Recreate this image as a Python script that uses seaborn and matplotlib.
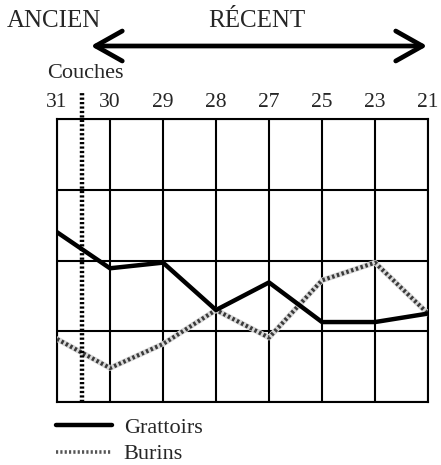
import matplotlib
matplotlib.use("Agg")
import matplotlib.pyplot as plt
import seaborn as sns
import pandas as pd

# ── Data ──────────────────────────────────────────────────────────────────────
couches   = ["31", "30", "29", "28", "27", "25", "23", "21"]
grattoirs = [24.0, 18.9, 19.7, 13.0, 16.9, 11.3, 11.3, 12.5]
burins    = [8.9, 4.8, 8.2, 13.0, 9.1, 17.2, 19.7, 12.5]
y_grid    = [0, 10, 20, 30, 40]

df = pd.DataFrame({
    "pos": range(len(couches)),
    "Grattoirs": grattoirs,
    "Burins": burins,
})

sns.set_style("white")
plt.rcParams["font.family"] = ["Liberation Serif", "DejaVu Serif"]

W, H = 441, 465
fig = plt.figure(figsize=(W / 100, H / 100), dpi=100)
ax = fig.add_axes([57 / W, 1 - 402 / H, (428 - 57) / W, (402 - 119) / H])

# Burins: hatched-looking band
sns.lineplot(data=df, x="pos", y="Burins", ax=ax, color="#d8d8d8", lw=4.0,
             legend=False, zorder=3)
sns.lineplot(data=df, x="pos", y="Burins", ax=ax, color="#3a3a3a", lw=3.0,
             legend=False, zorder=4)
ax.lines[-1].set_dashes((0.6, 0.6))
sns.lineplot(data=df, x="pos", y="Grattoirs", ax=ax, color="black", lw=3.2,
             legend=False, zorder=5)

ax.set_xlim(0, len(couches) - 1)
ax.set_ylim(y_grid[0], y_grid[-1])
ax.set_xticks(range(len(couches)))
ax.set_xticklabels(couches)
ax.set_yticks(y_grid)
ax.set_yticklabels([])
ax.set_xlabel("")
ax.set_ylabel("")
ax.grid(True, color="black", lw=1.5)
ax.set_axisbelow(True)
for sp in ax.spines.values():
    sp.set_color("black")
    sp.set_linewidth(1.5)
ax.tick_params(axis="x", top=True, labeltop=True, bottom=False,
               labelbottom=False, length=0, pad=5, labelsize=15.5)
ax.tick_params(axis="y", length=0)

# Dotted boundary between couche 31 and 30
ax.plot([0.47, 0.47], [y_grid[0], 44.0], color="black", lw=3.2,
        dashes=(0.5, 0.5), clip_on=False, zorder=6)

# Header: ANCIEN / RÉCENT with double arrow
fig.text(7 / W, 1 - 21 / H, "ANCIEN", fontsize=18, va="center", ha="left")
fig.text(208 / W, 1 - 21 / H, "RÉCENT", fontsize=18, va="center", ha="left")
fig.text(47 / W, 1 - 73 / H, "Couches", fontsize=16, va="center", ha="left")
fig.add_artist(matplotlib.patches.FancyArrowPatch(
    (88 / W, 1 - 46 / H), (430 / W, 1 - 46 / H),
    transform=fig.transFigure, arrowstyle="<->,head_length=8,head_width=4.5",
    lw=3.4, color="black", mutation_scale=2.4))

# Legend
handles = [
    matplotlib.lines.Line2D([], [], color="black", lw=3.2),
    matplotlib.lines.Line2D([], [], color="#555555", lw=2.6, dashes=(0.6, 0.6)),
]
fig.legend(handles, ["Grattoirs", "Burins"], loc="upper left",
           bbox_to_anchor=(56 / W, 1 - 417 / H), frameon=False, fontsize=16,
           handlelength=2.5, handletextpad=0.55, labelspacing=0.28,
           borderaxespad=0, borderpad=0)

fig.savefig("out.png", dpi=100)
